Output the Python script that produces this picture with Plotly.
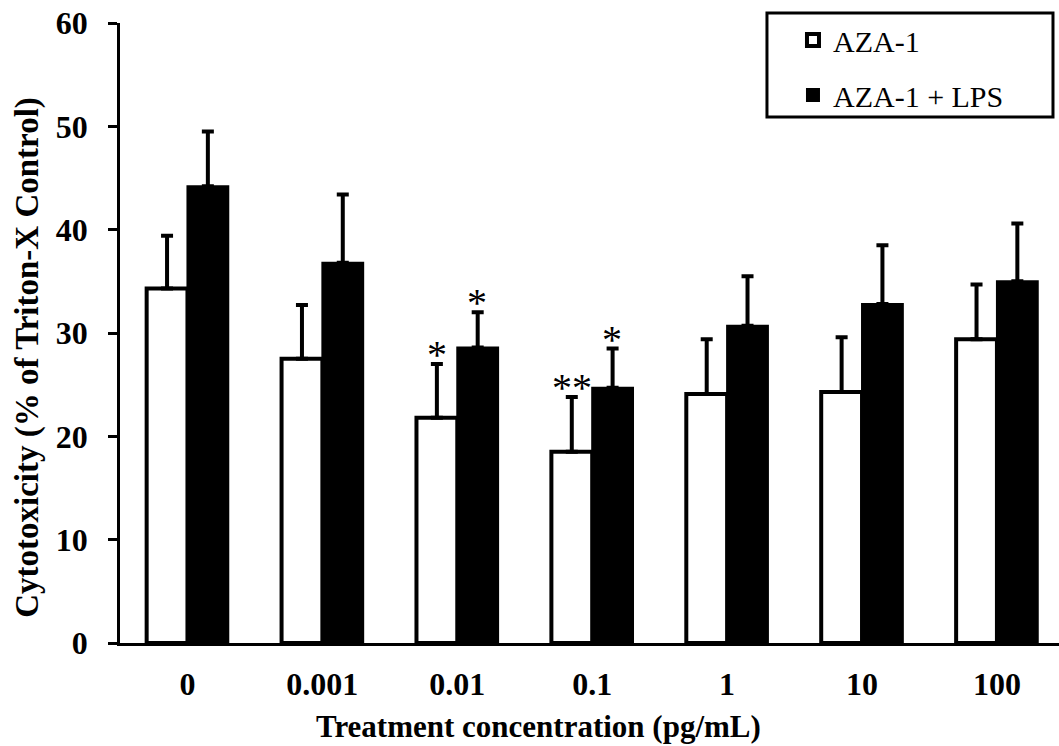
import plotly.graph_objects as go

categories = ["0", "0.001", "0.01", "0.1", "1", "10", "100"]
aza1 = [34.3, 27.5, 21.8, 18.5, 24.1, 24.3, 29.4]
aza1_err = [5.1, 5.2, 5.2, 5.3, 5.3, 5.3, 5.3]
aza1_lps = [44.2, 36.8, 28.6, 24.7, 30.7, 32.8, 35.0]
aza1_lps_err = [5.3, 6.6, 3.4, 3.8, 4.8, 5.7, 5.6]
# significance marks: (category, series index, label)
sig_marks = [("0.01", 0, "*"), ("0.01", 1, "*"), ("0.1", 0, "**"), ("0.1", 1, "*")]

SERIF = "Liberation Serif"

fig = go.Figure()
fig.add_trace(go.Bar(
    x=categories, y=aza1, name="AZA-1", legendgroup="a",
    marker=dict(color="white", line=dict(color="black", width=4)),
    error_y=dict(type="data", array=aza1_err, arrayminus=[0]*len(aza1_err),
                 symmetric=False, color="black", thickness=4, width=6),
))
fig.add_trace(go.Bar(
    x=categories, y=aza1_lps, name="AZA-1 + LPS", legendgroup="b",
    marker=dict(color="black", line=dict(color="black", width=2)),
    error_y=dict(type="data", array=aza1_lps_err, arrayminus=[0]*len(aza1_lps_err),
                 symmetric=False, color="black", thickness=4, width=6),
))

series_vals = [(aza1, aza1_err), (aza1_lps, aza1_lps_err)]
for cat, s, lab in sig_marks:
    i = categories.index(cat)
    v, e = series_vals[s]
    fig.add_annotation(
        x=i, y=v[i] + e[i], xref="x", yref="y",
        text=lab, showarrow=False, yanchor="bottom",
        xshift=-20 if s == 0 else 20, yshift=-15,
        font=dict(family=SERIF, size=40, color="black"),
    )

# axis titles
fig.add_annotation(
    x=0.4462, y=-0.135, xref="paper", yref="paper",
    text="<b>Treatment concentration (pg/mL)</b>", showarrow=False,
    xanchor="center", yanchor="middle",
    font=dict(family=SERIF, size=31, color="black"),
)
fig.add_annotation(
    x=-0.098, y=0.4616, xref="paper", yref="paper",
    text="<b>Cytotoxicity (% of Triton-X Control)</b>", showarrow=False,
    textangle=-90, xanchor="center", yanchor="middle",
    font=dict(family=SERIF, size=33, color="black"),
)

# legend frame
fig.add_shape(type="rect", xref="paper", yref="paper",
              x0=0.689, x1=0.9936, y0=0.8485, y1=1.016,
              line=dict(color="black", width=3), fillcolor="rgba(0,0,0,0)")

fig.update_layout(
    width=1059, height=746,
    margin=dict(l=120, r=0, t=23, b=103),
    paper_bgcolor="white", plot_bgcolor="white",
    barmode="group", bargap=0.395, bargroupgap=0,
    font=dict(family=SERIF, color="black"),
    showlegend=True,
    legend=dict(
        x=0.7167, y=1.0145, xanchor="left", yanchor="top",
        borderwidth=0, bgcolor="rgba(0,0,0,0)",
        font=dict(family=SERIF, size=30, color="black"),
        tracegroupgap=13, traceorder="grouped",
    ),
)
fig.update_xaxes(
    type="category", range=[-0.5, 6.46],
    showline=True, linecolor="black", linewidth=3,
    ticks="", showgrid=False, zeroline=False,
    tickfont=dict(family=SERIF, size=32, color="black", weight="bold"),
    ticklabelstandoff=11,
)
fig.update_yaxes(
    range=[0, 60], dtick=10,
    showline=True, linecolor="black", linewidth=2.5,
    ticks="outside", ticklen=9, tickwidth=2.5, tickcolor="black",
    showgrid=False, zeroline=False,
    tickfont=dict(family=SERIF, size=32, color="black", weight="bold"),
    ticklabelstandoff=14,
)

fig.write_html("out.html")
